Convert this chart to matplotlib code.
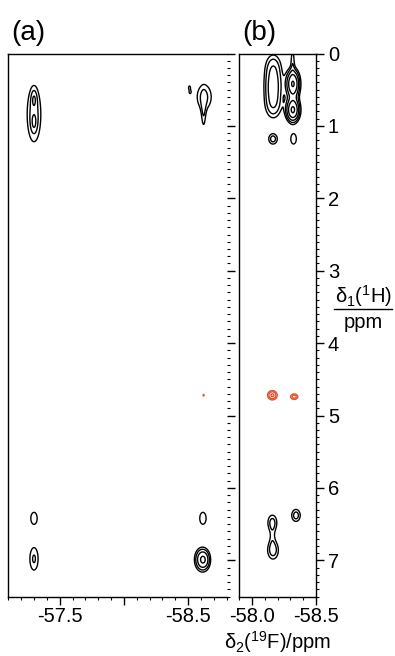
import numpy as np
import matplotlib
matplotlib.use("Agg")
import matplotlib.pyplot as plt
from matplotlib.lines import Line2D
from matplotlib.ticker import MultipleLocator, FixedLocator

plt.rcParams['font.family'] = ['Liberation Sans', 'DejaVu Sans']
plt.rcParams['mathtext.fontset'] = 'custom'
plt.rcParams['mathtext.rm'] = 'Liberation Sans'
plt.rcParams['mathtext.it'] = 'Liberation Sans:italic'

# cross peaks: (delta2 / ppm, delta1 / ppm, width2, width1, height)
peaks_a = [
    (-57.30, 0.84, 0.045, 0.32, 2.0),
    (-57.30, 0.63, 0.014, 0.08, 1.25),
    (-57.30, 0.95, 0.014, 0.08, 1.25),
    (-58.625, 0.60, 0.050, 0.15, 1.8),
    (-58.62, 0.85, 0.014, 0.18, 1.2),
    (-58.51, 0.47, 0.008, 0.025, 1.3),
    (-58.515, 0.53, 0.008, 0.025, 1.3),
    (-57.30, 6.42, 0.030, 0.10, 1.4),
    (-57.30, 6.98, 0.031, 0.15, 1.7),
    (-58.615, 6.42, 0.030, 0.10, 1.4),
    (-58.61, 6.99, 0.036, 0.10, 4.3),
    (-58.64, 7.00, 0.022, 0.08, 0.6),
]
peaks_a_red = [
    (-58.62, 4.72, 0.006, 0.018, 1.2),
]
peaks_b = [
    (-58.167, 0.20, 0.045, 0.14, 2.2),
    (-58.167, 0.45, 0.045, 0.14, 2.8),
    (-58.167, 0.70, 0.045, 0.14, 2.4),
    (-58.32, 0.42, 0.032, 0.12, 6.8),
    (-58.32, 0.78, 0.032, 0.10, 7.0),
    (-58.318, 0.08, 0.012, 0.12, 1.3),
    (-58.165, 1.18, 0.028, 0.06, 2.0),
    (-58.325, 1.18, 0.026, 0.085, 1.4),
    (-58.16, 6.48, 0.030, 0.09, 1.9),
    (-58.165, 6.86, 0.034, 0.10, 2.1),
    (-58.16, 6.67, 0.018, 0.10, 0.8),
    (-58.344, 6.38, 0.028, 0.07, 2.0),
]
peaks_b_red = [
    (-58.16, 4.72, 0.026, 0.045, 2.8),
    (-58.33, 4.74, 0.024, 0.032, 2.0),
]
levels = [1.0, 1.6, 2.56, 4.1, 6.55, 10.5]

xlim_a = (-57.1, -58.8)
xlim_b = (-57.9, -58.5)
ylim = (7.5, 0)
xticks_a = [-57.5, -58.0, -58.5]
xticklabels_a = ['-57.5', '', '-58.5']
xticks_b = [-58.0, -58.5]
xticklabels_b = ['-58.0', '-58.5']
yticks = [0, 1, 2, 3, 4, 5, 6, 7]

red = '#e8502a'


def spectrum(peaks, x, y):
    X, Y = np.meshgrid(x, y)
    Z = np.zeros_like(X)
    for d2, d1, w2, w1, h in peaks:
        Z += h * np.exp(-0.5 * ((X - d2) / w2) ** 2 - 0.5 * ((Y - d1) / w1) ** 2)
    return X, Y, Z


def draw(ax, xlim, black, redp):
    x = np.linspace(xlim[0], xlim[1], 900)
    y = np.linspace(0, 7.5, 3000)
    X, Y, Z = spectrum(black, x, y)
    ax.contour(X, Y, Z, levels=levels, colors='k', linewidths=1.0)
    X, Y, Z = spectrum(redp, x, y)
    ax.contour(X, Y, Z, levels=levels, colors=red, linewidths=1.0)
    ax.set_xlim(*xlim)
    ax.set_ylim(*ylim)


fig = plt.figure(figsize=(3.95, 6.56), dpi=100)
W, H = 395.0, 656.0
top, bot = 53.5, 596.5
ax_a = fig.add_axes([8.3 / W, 1 - bot / H, (226.7 - 8.3) / W, (bot - top) / H])
ax_b = fig.add_axes([239.0 / W, 1 - bot / H, (316.0 - 239.0) / W, (bot - top) / H])

draw(ax_a, xlim_a, peaks_a, peaks_a_red)
draw(ax_b, xlim_b, peaks_b, peaks_b_red)

for ax in (ax_a, ax_b):
    for s in ax.spines.values():
        s.set_linewidth(1.0)
    ax.yaxis.set_major_locator(FixedLocator(yticks))
    ax.yaxis.set_minor_locator(MultipleLocator(0.1))
    ax.xaxis.set_minor_locator(MultipleLocator(0.1))
    ax.tick_params(which='major', direction='out', length=5.5, width=1.0,
                   labelsize=14.5, pad=2)
    ax.tick_params(which='minor', direction='out', length=2.2, width=0.8)
    ax.tick_params(axis='y', which='both', left=False, labelleft=False,
                   right=True)

ax_a.set_xticks(xticks_a)
ax_a.set_xticklabels(xticklabels_a)
ax_a.tick_params(axis='y', labelright=False)
ax_a.spines['right'].set_visible(False)

ax_b.set_xticks(xticks_b)
ax_b.set_xticklabels(xticklabels_b)
ax_b.tick_params(axis='y', labelright=True, pad=3)

fig.text(11 / W, 1 - 33 / H, '(a)', fontsize=20, va='center', ha='left')
fig.text(242 / W, 1 - 33 / H, '(b)', fontsize=20, va='center', ha='left')

fig.text(277.5 / W, 1 - 642 / H, r'δ$_2$($^{19}$F)/ppm', fontsize=14.5,
         ha='center', va='center')
fig.text(363 / W, 1 - 296 / H, r'δ$_1$($^1$H)', fontsize=14.5,
         ha='center', va='center')
fig.text(363 / W, 1 - 322 / H, 'ppm', fontsize=14.5, ha='center', va='center')
fig.add_artist(Line2D([334 / W, 392 / W], [1 - 309 / H, 1 - 309 / H],
                      color='k', lw=1.0, transform=fig.transFigure))

fig.savefig('out.png', dpi=100)
